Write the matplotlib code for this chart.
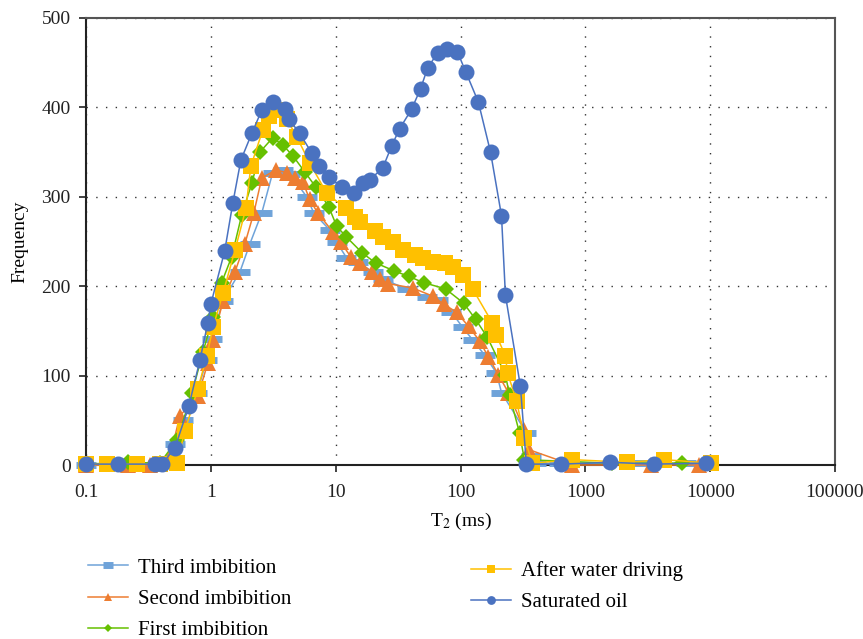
import numpy as np
import matplotlib
matplotlib.use("Agg")
import matplotlib.pyplot as plt

plt.rcParams['font.family'] = ['Liberation Serif', 'DejaVu Serif']
plt.rcParams['mathtext.fontset'] = 'stix'

# T2 (ms) and frequency, one pair of lists per curve
third_t2 = [0.1, 0.187, 0.325, 0.406, 0.515, 0.597, 0.773, 0.929, 1.02, 1.25, 1.71, 2.05,
            2.56, 3.13, 3.77, 4.29, 5.86, 6.67, 8.95, 10.2, 12.2, 15.0, 19.8, 23.8, 37.0,
            53.5, 65.5, 84.7, 104, 125, 156, 194, 213, 337, 370, 405, 619, 2704, 6427]
third_freq = [0, 0, 0, 3, 23, 50, 80, 118, 141, 184, 216, 247,
              282, 327, 330, 326, 300, 282, 263, 249, 232, 227, 216, 208, 197,
              188, 185, 171, 154, 140, 123, 103, 81, 36, 10, 2, 2, 2, 2]

second_t2 = [0.1, 0.217, 0.325, 0.47, 0.565, 0.787, 0.946, 1.04, 1.25, 1.56, 1.87, 2.21,
             2.56, 3.31, 4.06, 4.7, 5.45, 6.19, 7.18, 9.46, 11.0, 13.2, 15.8, 19.4, 22.5,
             26.1, 41.3, 59.7, 73.1, 92.9, 116, 142, 167, 201, 242, 325, 356, 787, 3373, 8166]
second_freq = [0, 0, 0, 9, 55, 77, 114, 140, 183, 216, 247, 282,
               321, 330, 327, 321, 317, 297, 282, 261, 249, 233, 226, 216, 208,
               203, 198, 189, 180, 171, 155, 139, 121, 101, 81, 39, 17, 0, 0, 0]

first_t2 = [0.1, 0.217, 0.391, 0.535, 0.705, 0.863, 1.04, 1.22, 1.47, 1.77, 2.13, 2.47,
            3.13, 3.77, 4.53, 5.65, 6.92, 8.79, 10.2, 12.2, 16.4, 20.9, 29.6, 38.4, 50.6,
            75.9, 106, 132, 164, 229, 247, 297, 325, 1644, 5970]
first_freq = [1, 3, 2, 28, 80, 126, 165, 204, 233, 280, 315, 350,
              366, 358, 346, 328, 311, 289, 267, 255, 237, 226, 217, 211, 204,
              197, 181, 163, 143, 101, 78, 36, 6, 2, 2]

water_t2 = [0.1, 0.147, 0.256, 0.391, 0.535, 0.619, 0.787, 0.929, 1.04, 1.25, 1.56, 1.91,
            2.09, 2.61, 2.91, 3.25, 4.06, 4.88, 6.19, 8.47, 12.0, 14.2, 15.6, 20.5, 23.8,
            28.6, 34.4, 42.9, 49.7, 59.7, 74.5, 86.3, 104, 125, 180, 194, 229, 238, 281,
            325, 377, 787, 2168, 4285, 10190]
water_freq = [1, 1, 1, 1, 2, 38, 85, 122, 154, 192, 240, 287,
              334, 375, 390, 397, 387, 367, 338, 304, 287, 277, 272, 262, 255,
              249, 240, 235, 232, 227, 226, 221, 213, 197, 159, 145, 122, 103, 72,
              30, 2, 6, 3, 6, 2]

oil_t2 = [0.1, 0.18, 0.356, 0.406, 0.515, 0.667, 0.817, 0.946, 1.0, 1.29, 1.5, 1.74,
          2.13, 2.56, 3.13, 3.91, 4.21, 5.15, 6.43, 7.31, 8.79, 11.2, 13.9, 16.7, 18.7,
          23.8, 28.1, 32.5, 40.6, 47.9, 54.5, 65.5, 77.3, 94.6, 110, 139, 174, 213, 229,
          302, 337, 643, 1585, 3565, 9290]
oil_freq = [1, 1, 1, 1, 19, 66, 117, 159, 180, 239, 293, 341,
            371, 397, 406, 398, 387, 371, 349, 334, 322, 311, 304, 315, 319,
            332, 357, 376, 398, 421, 444, 461, 465, 462, 440, 406, 350, 279, 190,
            88, 1, 1, 3, 1, 2]

x_ticks = [0.1, 1, 10, 100, 1000, 10000, 100000]
x_ticklabels = ['0.1', '1', '10', '100', '1000', '10000', '100000']

W, H = 863, 639
fig = plt.figure(figsize=(W / 100, H / 100), dpi=100)
ax = fig.add_axes([86 / W, 1 - 465 / H, (835 - 86) / W, (465 - 18) / H])

lines = []
lines += ax.plot(third_t2, third_freq, color='#6fa3d9', lw=1.1, marker='_', ms=14, mew=5,
                 label='Third imbibition', zorder=3, clip_on=False)
lines += ax.plot(second_t2, second_freq, color='#ed7d31', lw=1.1, marker='^', ms=11, mew=0,
                 label='Second imbibition', zorder=4, clip_on=False)
lines += ax.plot(first_t2, first_freq, color='#66c000', lw=1.1, marker='D', ms=8, mew=0,
                 label='First imbibition', zorder=5, clip_on=False)
lines += ax.plot(water_t2, water_freq, color='#ffc000', lw=1.1, marker='s', ms=11, mew=0,
                 label='After water driving', zorder=6, clip_on=False)
lines += ax.plot(oil_t2, oil_freq, color='#4a72c0', lw=1.1, marker='o', ms=11.5, mew=0,
                 label='Saturated oil', zorder=7, clip_on=False)

ax.set_xscale('log')
ax.set_xlim(0.1, 100000)
ax.set_ylim(0, 500)
ax.set_xticks(x_ticks)
ax.set_xticklabels(x_ticklabels)
ax.set_yticks([0, 100, 200, 300, 400, 500])
ax.minorticks_off()
ax.tick_params(direction='out', length=5, width=1.2, labelsize=14, colors='#222222')
ax.tick_params(axis='x', pad=9)
ax.tick_params(axis='y', pad=6)
ax.grid(True, which='major', color='#333333', linestyle=(0, (1, 6)), linewidth=1.0)

for side in ['left', 'bottom']:
    ax.spines[side].set_color('#222222')
    ax.spines[side].set_linewidth(1.5)
for side in ['top', 'right']:
    ax.spines[side].set_color('#555555')
    ax.spines[side].set_linewidth(1.5)

ax.set_xlabel('T$_2$ (ms)', fontsize=14, labelpad=7)
ax.set_ylabel('Frequency', fontsize=14, labelpad=9)

leg_kw = dict(frameon=False, fontsize=15, handlelength=1.9, handletextpad=0.5,
              labelspacing=0.56, markerscale=0.55, borderpad=0, borderaxespad=0,
              loc='upper left')
leg1 = fig.legend(lines[:3], [l.get_label() for l in lines[:3]],
                  bbox_to_anchor=(88 / W, 1 - 558 / H), **leg_kw)
leg2 = fig.legend(lines[3:], [l.get_label() for l in lines[3:]],
                  bbox_to_anchor=(471 / W, 1 - 561 / H), **leg_kw)

fig.savefig('out.png', dpi=100)
